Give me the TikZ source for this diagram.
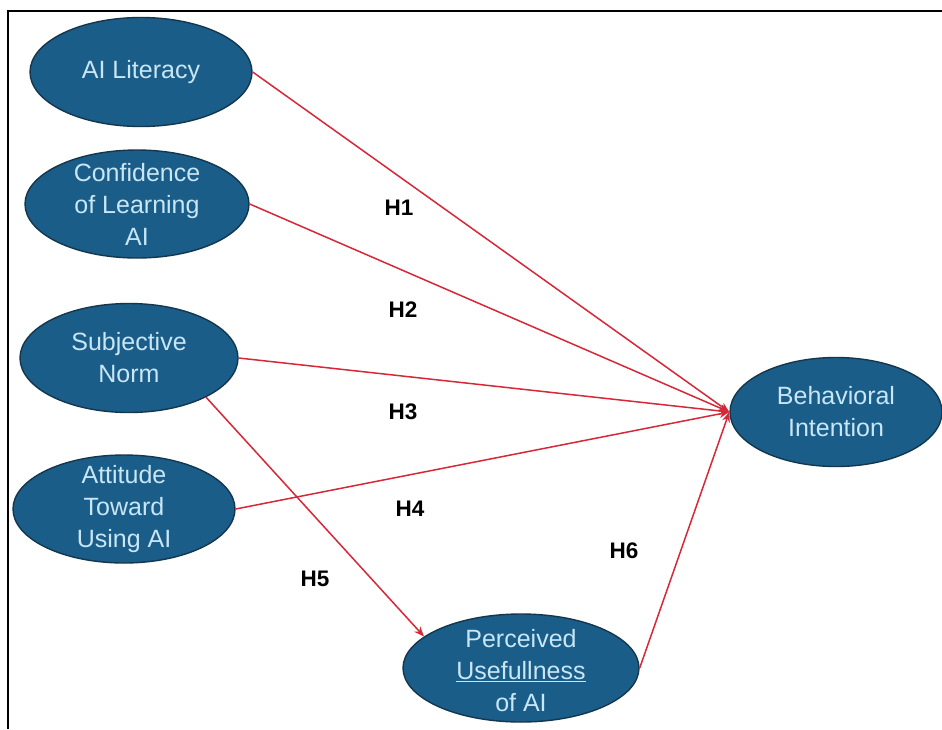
\documentclass[tikz,border=0pt]{standalone}
\usepackage{fontspec}
\setmainfont{Liberation Sans}
\usetikzlibrary{shapes.geometric,arrows.meta}
\definecolor{ovalfill}{RGB}{26,93,136}
\definecolor{ovaledge}{RGB}{20,55,78}
\definecolor{ovaltext}{RGB}{200,230,245}
\definecolor{linkred}{RGB}{214,40,56}
\tikzset{
  construct/.style={ellipse, draw=ovaledge, fill=ovalfill, line width=1.4pt, inner sep=0pt},
  ovallabel/.style={text=ovaltext, align=center, font=\fontsize{25}{32}\selectfont, inner sep=0pt},
  hyp/.style={font=\fontsize{22.5}{24}\selectfont\bfseries, text=black},
  link/.style={draw=linkred, line width=1.5pt, -{Stealth[length=10pt,width=8pt]}}
}
\begin{document}
\begin{tikzpicture}[x=1pt,y=-1pt]
  \useasboundingbox (0,0) rectangle (942,729);
  \fill[white] (0,0) rectangle (942,729);
  % frame on the left and top
  \draw[line width=1.5pt] (8,729) -- (8,11) -- (942,11);

  % constructs
  \node[construct, minimum width=222pt, minimum height=109pt] (lit) at (141,72) {};
  \node[ovallabel] (litt) at (lit.center) {AI Literacy};

  \node[construct, minimum width=224pt, minimum height=108pt] (conf) at (137,204) {};
  \node[ovallabel] (conft) at (conf.center) {Confidence\\of Learning\\AI};

  \node[construct, minimum width=218pt, minimum height=109pt] (sn) at (129,358) {};
  \node[ovallabel] (snt) at (sn.center) {Subjective\\Norm};

  \node[construct, minimum width=222pt, minimum height=108pt] (att) at (124,509) {};
  \node[ovallabel] (attt) at (att.center) {Attitude\\Toward\\Using AI};

  \node[construct, minimum width=212pt, minimum height=109pt] (bi) at (836,412) {};
  \node[ovallabel] (bit) at (bi.center) {Behavioral\\Intention};

  \node[construct, minimum width=236pt, minimum height=108pt] (pu) at (521,668) {};
  \node[ovallabel] (put) at ([yshift=-3pt]pu.center) {Perceived\\\underline{Usefullness}\\of AI};

  % hypothesised paths
  \draw[link] (lit.east) -- (bi.west);
  \draw[link] (conf.east) -- (bi.west);
  \draw[link] (sn.east) -- (bi.west);
  \draw[link] (att.east) -- (bi.west);
  \draw[link] (pu.east) -- (bi.west);
  \draw[link] (sn.-27) -- (pu.162);

  % hypothesis labels
  \node[hyp] (h1) at (399,208) {H1};
  \node[hyp] (h2) at (403,310) {H2};
  \node[hyp] (h3) at (403,412) {H3};
  \node[hyp] (h4) at (410,509) {H4};
  \node[hyp] (h5) at (315,579) {H5};
  \node[hyp] (h6) at (624,551) {H6};
\end{tikzpicture}
\end{document}
